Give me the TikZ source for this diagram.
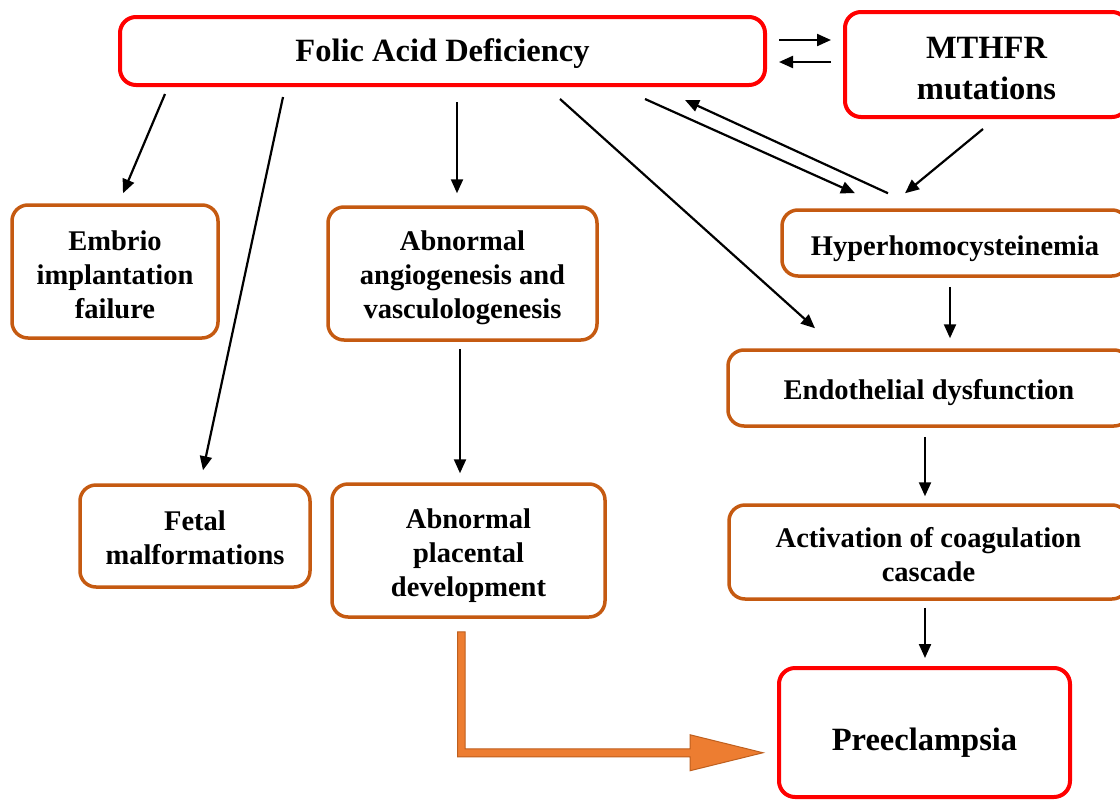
\documentclass[tikz,border=0pt]{standalone}
\usepackage{fontspec}
\setmainfont{Liberation Serif}
\usetikzlibrary{arrows.meta,calc}
\definecolor{boxred}{RGB}{255,0,0}
\definecolor{boxorange}{RGB}{197,90,17}
\definecolor{arrfill}{RGB}{237,125,49}
\definecolor{arrline}{RGB}{190,95,30}
\tikzset{
  redbox/.style={draw=boxred, line width=4pt, rounded corners=16pt, inner sep=0pt},
  orbox/.style={draw=boxorange, line width=3.5pt, rounded corners=16pt, inner sep=0pt},
  redtxt/.style={align=center, inner sep=0pt, font=\bfseries\fontsize{32.5}{41}\selectfont},
  ortxt/.style={align=center, inner sep=0pt, font=\bfseries\fontsize{28.5}{34}\selectfont},
  arr/.style={line width=2.2pt, -{Triangle[length=14pt,width=12pt]}},
}
\begin{document}
\begin{tikzpicture}[x=1pt,y=-1pt]
\useasboundingbox (0,0) rectangle (1120,801);
\clip (0,0) rectangle (1120,801);
\fill[white] (0,0) rectangle (1120,801);

% boxes
\node[redbox, minimum width=645pt, minimum height=68pt] (folic) at (442.5,51) {};
\node[redbox, minimum width=283pt, minimum height=105pt] (mthfr) at (986.5,64.5) {};
\node[orbox, minimum width=206pt, minimum height=133pt] (embrio) at (115,271.5) {};
\node[orbox, minimum width=269pt, minimum height=133pt] (angio) at (462.5,273.5) {};
\node[orbox, minimum width=346pt, minimum height=66pt] (hyper) at (955,243) {};
\node[orbox, minimum width=402pt, minimum height=76pt] (endo) at (929,388) {};
\node[orbox, minimum width=230pt, minimum height=102pt] (fetal) at (195,536) {};
\node[orbox, minimum width=273pt, minimum height=133pt] (plac) at (468.5,550.5) {};
\node[orbox, minimum width=399pt, minimum height=94pt] (coag) at (928.5,552) {};
\node[redbox, minimum width=291pt, minimum height=129pt] (pre) at (924.5,732.5) {};

% texts
\node[redtxt] (folic-t) at ([shift={(0,3)}]folic.center) {Folic Acid Deficiency};
\node[redtxt] (mthfr-t) at ([shift={(0,4)}]mthfr.center) {MTHFR\\mutations};
\node[ortxt] (embrio-t) at ([shift={(0,3)}]embrio.center) {Embrio\\implantation\\failure};
\node[ortxt] (angio-t) at ([shift={(0,4.5)}]angio.center) {Abnormal\\angiogenesis and\\vasculologenesis};
\node[ortxt] (hyper-t) at ([shift={(0,6)}]hyper.center) {Hyperhomocysteinemia};
\node[ortxt] (endo-t) at ([shift={(0,5)}]endo.center) {Endothelial dysfunction};
\node[ortxt] (fetal-t) at ([shift={(0,2)}]fetal.center) {Fetal\\malformations};
\node[ortxt] (plac-t) at ([shift={(0,5)}]plac.center) {Abnormal\\placental\\development};
\node[ortxt] (coag-t) at ([shift={(0,2.5)}]coag.center) {Activation of coagulation\\cascade};
\node[redtxt] (pre-t) at ([shift={(0,10)}]pre.center) {Preeclampsia};

% arrows
\draw[arr] ([shift={(12,-11)}]folic.east) -- ([shift={(-12,-24.5)}]mthfr.west);
\draw[arr] ([shift={(-12,-2.5)}]mthfr.west) -- ([shift={(12,11)}]folic.east);
\draw[arr] ([shift={(-277.5,7)}]folic.south) -- ([shift={(8,-10)}]embrio.north);
\draw[arr] ([shift={(-159.5,10)}]folic.south) -- ([shift={(8,-13)}]fetal.north);
\draw[arr] ([shift={(14.5,15)}]folic.south) -- ([shift={(-5.5,-12)}]angio.north);
\draw[arr] ([shift={(117.5,12)}]folic.south) -- ([shift={(-114,-20)}]endo.north);
\draw[arr] ([shift={(202.5,12)}]folic.south) -- ([shift={(-100,-15)}]hyper.north);
\draw[arr] ([shift={(-67,-15)}]hyper.north) -- ([shift={(242.5,13)}]folic.south);
\draw[arr] ([shift={(-3.5,10)}]mthfr.south) -- ([shift={(-50,-15)}]hyper.north);
\draw[arr] ([shift={(-5,9)}]hyper.south) -- ([shift={(21,-10)}]endo.north);
\draw[arr] ([shift={(-2.5,7)}]angio.south) -- ([shift={(-8.5,-9)}]plac.north);
\draw[arr] ([shift={(-4,9)}]endo.south) -- ([shift={(-3.5,-7)}]coag.north);
\draw[arr] ([shift={(-3.5,7)}]coag.south) -- ([shift={(0.5,-8)}]pre.north);

% big orange arrow
\coordinate (bs) at (plac.south);
\filldraw[fill=arrfill, draw=arrline, line width=1pt, line join=miter]
  ($(bs)+(-11,13)$) -- ($(bs)+(-3.5,13)$) -- ($(bs)+(-3.5,130)$) -- ($(bs)+(221.5,130)$)
  -- ($(bs)+(221.5,116)$) -- ($(bs)+(294.5,134)$) -- ($(bs)+(221.5,152)$) -- ($(bs)+(221.5,138)$)
  -- ($(bs)+(-11,138)$) -- cycle;
\end{tikzpicture}
\end{document}
